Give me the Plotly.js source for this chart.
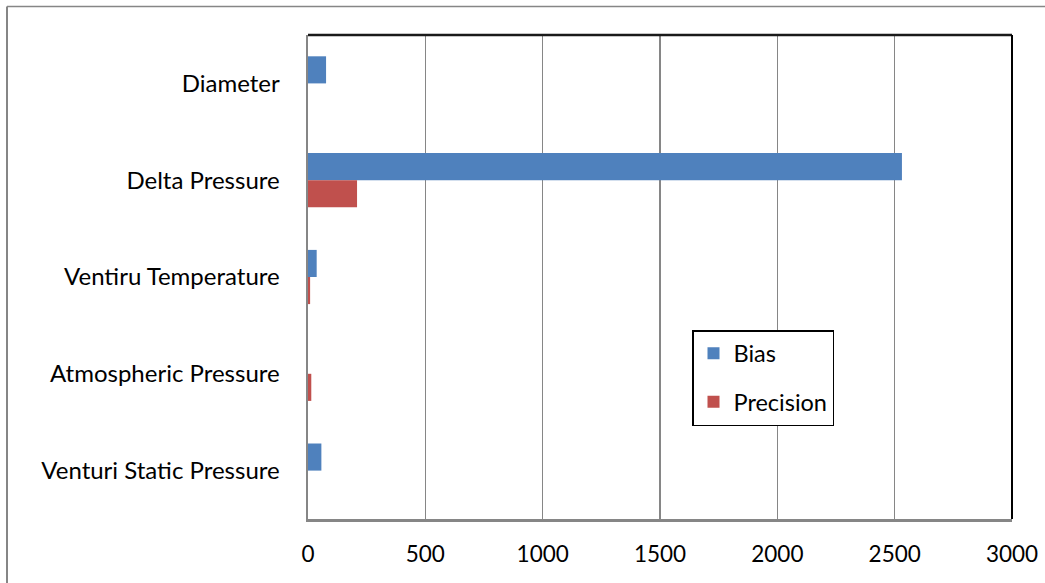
<!DOCTYPE html>
<html>
<head>
<meta charset="utf-8">
<script src="https://cdn.plot.ly/plotly-3.0.1.min.js"></script>
<style>
  html, body { margin: 0; padding: 0; background: #ffffff; }
  #chart { width: 1045px; height: 583px; }
</style>
</head>
<body>
<div id="chart"></div>
<script>
// Uncertainty contributions per measured quantity
const categories = ['Diameter', 'Delta Pressure', 'Ventiru Temperature', 'Atmospheric Pressure', 'Venturi Static Pressure'];
const biasValues = [77, 2531, 37, 0, 57];
const precisionValues = [0, 209, 9, 14, 0];
const xTicks = [0, 500, 1000, 1500, 2000, 2500, 3000];

const FONT = 'Lato, "Open Sans", "DejaVu Sans", sans-serif';

const W = 1045, H = 583;
const M = { l: 308, r: 33, t: 35, b: 64 };
const pw = W - M.l - M.r, ph = H - M.t - M.b;
// pixel -> paper helpers for the frame lines
const px = x => (x - M.l) / pw;
const py = y => 1 - (y - M.t) / ph;

const traces = [
  {
    type: 'bar', orientation: 'h', name: 'Bias',
    y: categories, x: biasValues,
    marker: { color: '#4F81BD' },
    legendgroup: 'a', hoverinfo: 'x+name'
  },
  {
    type: 'bar', orientation: 'h', name: 'Precision',
    y: categories, x: precisionValues,
    marker: { color: '#C0504D' },
    legendgroup: 'b', hoverinfo: 'x+name'
  }
];

const layout = {
  width: W, height: H,
  margin: M,
  paper_bgcolor: '#ffffff', plot_bgcolor: '#ffffff',
  font: { family: FONT, size: 23, color: '#000000' },
  barmode: 'group',
  bargap: 0.44, bargroupgap: 0,
  showlegend: true,
  legend: {
    x: px(692), y: py(330), xanchor: 'left', yanchor: 'top',
    bordercolor: '#000000', borderwidth: 1.5,
    bgcolor: '#ffffff',
    traceorder: 'grouped', tracegroupgap: 15,
    font: { family: FONT, size: 23.5, color: '#000000' }
  },
  xaxis: {
    range: [0, 3000],
    tickvals: xTicks, ticktext: xTicks.map(String),
    showgrid: true, gridcolor: '#868686', gridwidth: 1.5,
    zeroline: false,
    showline: true, linecolor: '#868686', linewidth: 2.5,
    ticks: '', ticklabelstandoff: 13,
    tickfont: { family: FONT, size: 22.5, color: '#000000' },
    fixedrange: true
  },
  yaxis: {
    type: 'category',
    categoryorder: 'array', categoryarray: categories,
    autorange: 'reversed',
    showgrid: false, zeroline: false,
    showline: true, linecolor: '#868686', linewidth: 2.5,
    ticks: '', ticklabelstandoff: 21,
    tickfont: { family: FONT, size: 24, color: '#000000' },
    fixedrange: true
  },
  shapes: [
    // plot area frame: top and right edges
    { type: 'line', xref: 'paper', yref: 'paper', x0: 0, x1: 1, y0: 1, y1: 1,
      line: { color: '#1a1a1a', width: 2.5 } },
    { type: 'line', xref: 'paper', yref: 'paper', x0: 1, x1: 1, y0: 0, y1: 1,
      line: { color: '#000000', width: 2 } },
    // outer chart frame (top and left)
    { type: 'line', xref: 'paper', yref: 'paper', x0: px(7), x1: px(1046), y0: py(6.5), y1: py(6.5),
      line: { color: '#868686', width: 1.5 } },
    { type: 'line', xref: 'paper', yref: 'paper', x0: px(7), x1: px(7), y0: py(6.5), y1: py(584),
      line: { color: '#868686', width: 2 } }
  ]
};

Plotly.newPlot('chart', traces, layout, { displayModeBar: false, staticPlot: true });
</script>
</body>
</html>
